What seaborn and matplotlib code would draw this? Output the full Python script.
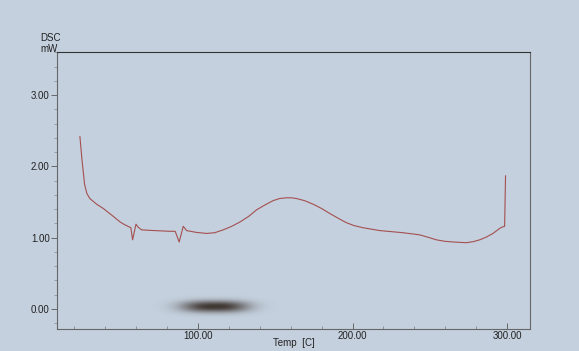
import matplotlib
matplotlib.use("Agg")
import matplotlib.pyplot as plt
import seaborn as sns
import pandas as pd
import numpy as np
from matplotlib.ticker import MultipleLocator, FormatStrFormatter

temp = [24.0, 25.3, 27.0, 28.5, 30.4, 34.8, 39.1, 45.5, 50.0, 53.1, 56.9, 58.0,
        60.2, 61.5, 63.8, 72.0, 82.1, 85.5, 88.1, 90.7, 92.9, 99.0, 105.8,
        111.0, 116.5, 122.0, 127.3, 133.0, 138.0, 143.5, 148.7, 153.0, 157.4,
        160.5, 163.8, 169.0, 174.6, 180.0, 185.3, 191.0, 196.1, 201.0, 206.8,
        217.6, 232.6, 243.4, 249.0, 254.2, 259.5, 264.9, 273.5, 278.0, 282.1,
        286.5, 290.7, 295.0, 296.7, 298.2, 298.8]
dsc = [2.42, 2.10, 1.75, 1.62, 1.55, 1.47, 1.41, 1.30, 1.22, 1.18, 1.14, 0.97,
       1.19, 1.15, 1.11, 1.10, 1.09, 1.09, 0.94, 1.16, 1.10, 1.075, 1.06,
       1.07, 1.11, 1.16, 1.22, 1.30, 1.39, 1.46, 1.52, 1.55, 1.56,
       1.56, 1.55, 1.52, 1.47, 1.41, 1.34, 1.27, 1.21, 1.17, 1.14,
       1.10, 1.07, 1.04, 1.005, 0.97, 0.95, 0.94, 0.93, 0.945, 0.97,
       1.01, 1.06, 1.13, 1.15, 1.16, 1.87]

x_ticks = [100, 200, 300]
y_ticks = [0, 1, 2, 3]

bg = "#c4d0de"
sns.set_style("white", {"axes.facecolor": bg, "figure.facecolor": bg,
                        "axes.edgecolor": "#555555"})
plt.rcParams['font.family'] = ['Liberation Sans', 'DejaVu Sans']

df = pd.DataFrame({"Temp": temp, "DSC": dsc})

fig = plt.figure(figsize=(5.79, 3.51), dpi=100)
ax = fig.add_axes([0.0979, 0.0618, 0.8175, 0.7890])

# scanner smudge near the bottom of the chart
gx = np.linspace(-1, 1, 240)
gy = np.linspace(-1, 1, 80)
GX, GY = np.meshgrid(gx, gy)
r = (np.abs(GX) / 0.62) ** 2.6 + (np.abs(GY) / 0.5) ** 2.2
alpha = 0.92 * np.exp(-r * 1.6)
smudge = np.zeros((80, 240, 4))
smudge[..., 0] = 0.20
smudge[..., 1] = 0.16
smudge[..., 2] = 0.13
smudge[..., 3] = alpha
ax.imshow(smudge, extent=(70, 152, -0.17, 0.23), aspect="auto",
          interpolation="bilinear", zorder=1)

sns.lineplot(data=df, x="Temp", y="DSC", ax=ax, color="#a4504f",
             linewidth=0.8, sort=False, estimator=None, zorder=3)

ax.set_xlim(9.0, 314.6)
ax.set_ylim(-0.285, 3.60)
ax.set_xticks(x_ticks)
ax.set_yticks(y_ticks)
ax.xaxis.set_minor_locator(MultipleLocator(20))
ax.yaxis.set_minor_locator(MultipleLocator(0.2))
ax.xaxis.set_major_formatter(FormatStrFormatter("%.2f"))
ax.yaxis.set_major_formatter(FormatStrFormatter("%.2f"))
ax.tick_params(axis="x", which="both", bottom=True)
ax.tick_params(axis="y", which="both", left=True)
ax.tick_params(axis="x", which="major", direction="in", length=4, width=0.6,
               color="#555555", labelsize=7, pad=1, labelcolor="#222222")
ax.tick_params(axis="x", which="minor", direction="in", length=2, width=0.5,
               color="#777777")
ax.tick_params(axis="y", which="major", direction="out", length=4, width=0.6,
               color="#555555", labelsize=7, pad=1, labelcolor="#222222")
ax.tick_params(axis="y", which="minor", direction="out", length=2, width=0.5,
               color="#888888")
for s in ax.spines.values():
    s.set_linewidth(0.8)
ax.spines["top"].set_color("#333333")
ax.spines["left"].set_color("#666666")
ax.spines["right"].set_color("#666666")
ax.spines["bottom"].set_color("#666666")

ax.set_xlabel("")
ax.set_ylabel("")
fig.text(0.507, 0.024, "Temp  [C]", fontsize=7, color="#222222",
         ha="center", va="center")
fig.text(0.070, 0.905, "DSC\nmW", fontsize=7, color="#222222",
         ha="left", va="top", linespacing=1.05)

fig.savefig("out.png", dpi=100, facecolor=bg)
